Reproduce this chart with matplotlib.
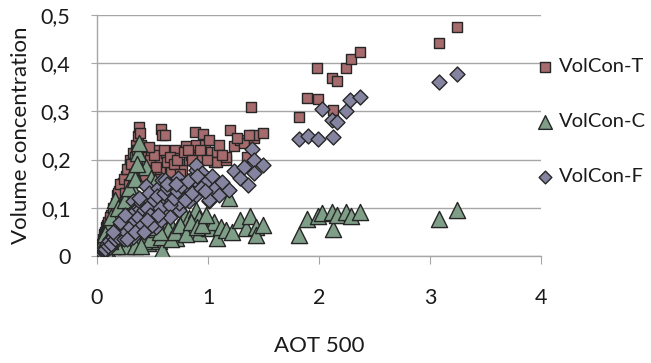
import matplotlib
matplotlib.use("Agg")
import matplotlib.pyplot as plt

plt.rcParams['font.family'] = ['Lato', 'DejaVu Sans']

# VolCon-T (squares)
t_x = [0.01, 0.02, 0.03, 0.04, 0.05, 0.06, 0.07, 0.08, 0.09, 0.1, 0.116, 0.13, 0.15, 0.16,
       0.176, 0.19, 0.2, 0.22, 0.235, 0.26, 0.28, 0.295, 0.3, 0.32, 0.34, 0.35, 0.37, 0.38,
       0.39, 0.41, 0.43, 0.44, 0.46, 0.49, 0.5, 0.52, 0.56, 0.56, 0.58, 0.59, 0.61, 0.62, 0.64,
       0.67, 0.7, 0.71, 0.74, 0.77, 0.8, 0.83, 0.85, 0.88, 0.89, 0.91, 0.955, 0.97, 1.01,
       1.03, 1.05, 1.08, 1.08, 1.16, 1.16, 1.2, 1.23, 1.29, 1.32, 1.35, 1.39, 1.41, 1.41, 1.5,
       1.82, 1.89, 1.98, 1.99, 2.12, 2.13, 2.16, 2.24, 2.29, 2.37, 3.08, 3.24,
       0.12, 0.14, 0.17, 0.19, 0.21, 0.24, 0.25, 0.27, 0.29, 0.31, 0.33, 0.36, 0.4, 0.42,
       0.45, 0.48, 0.51, 0.54, 0.57, 0.6, 0.63, 0.66, 0.69, 0.72, 0.75, 0.78, 0.82, 0.86,
       0.93, 0.99, 1.1, 1.13, 1.26, 1.37, 0.47, 0.53]
t_y = [0.003, 0.008, 0.015, 0.025, 0.035, 0.045, 0.05, 0.06, 0.065, 0.07, 0.075, 0.085, 0.09, 0.095,
       0.127, 0.12, 0.135, 0.14, 0.151, 0.165, 0.16, 0.189, 0.2, 0.213, 0.205, 0.23, 0.248, 0.267,
       0.255, 0.199, 0.165, 0.215, 0.21, 0.206, 0.18, 0.22, 0.199, 0.165, 0.263, 0.251, 0.251, 0.213, 0.19,
       0.175, 0.22, 0.203, 0.19, 0.178, 0.227, 0.199, 0.21, 0.258, 0.23, 0.205, 0.253, 0.23, 0.241,
       0.216, 0.195, 0.216, 0.194, 0.2, 0.206, 0.261, 0.227, 0.241, 0.234, 0.205, 0.309, 0.244, 0.251, 0.254,
       0.288, 0.327, 0.39, 0.325, 0.369, 0.303, 0.363, 0.39, 0.409, 0.423, 0.441, 0.474,
       0.08, 0.1, 0.11, 0.13, 0.15, 0.16, 0.13, 0.18, 0.15, 0.19, 0.17, 0.22, 0.23, 0.18,
       0.19, 0.2, 0.21, 0.17, 0.18, 0.22, 0.195, 0.205, 0.19, 0.2, 0.17, 0.215, 0.22, 0.2,
       0.22, 0.2, 0.23, 0.21, 0.245, 0.25, 0.225, 0.185]

# VolCon-C (triangles)
c_x = [0.01, 0.02, 0.03, 0.04, 0.05, 0.06, 0.07, 0.08, 0.1, 0.1, 0.12, 0.14, 0.16, 0.16, 0.18,
       0.2, 0.22, 0.24, 0.265, 0.28, 0.3, 0.31, 0.32, 0.33, 0.37, 0.38, 0.38, 0.4, 0.44, 0.46,
       0.49, 0.52, 0.5, 0.55, 0.56, 0.59, 0.62, 0.65, 0.68, 0.71, 0.73, 0.78, 0.79, 0.83, 0.875,
       0.88, 0.89, 0.92, 0.92, 0.96, 1.01, 1.05, 1.08, 1.12, 1.16, 1.19, 1.22, 1.29, 1.34, 1.38,
       1.43, 1.43, 1.5, 1.82, 1.89, 1.99, 2.03, 2.12, 2.13, 2.16, 2.24, 2.29, 2.37, 3.08, 3.24,
       0.03, 0.05, 0.07, 0.09, 0.11, 0.13, 0.15, 0.17, 0.19, 0.21, 0.23, 0.25, 0.27, 0.29,
       0.34, 0.36, 0.42, 0.45, 0.48, 0.53, 0.58, 0.6, 0.64, 0.67, 0.7, 0.75, 0.8, 0.85, 0.9,
       0.95, 0.98, 0.26, 0.3, 0.34, 0.18, 0.12, 0.08, 0.4, 0.47, 0.57]
c_y = [0.002, 0.006, 0.01, 0.033, 0.015, 0.04, 0.02, 0.05, 0.061, 0.01, 0.07, 0.02, 0.082, 0.116, 0.09,
       0.03, 0.106, 0.04, 0.123, 0.135, 0.03, 0.147, 0.175, 0.05, 0.213, 0.234, 0.04, 0.06, 0.185, 0.026,
       0.161, 0.154, 0.05, 0.07, 0.03, 0.012, 0.045, 0.047, 0.06, 0.037, 0.061, 0.05, 0.082, 0.078, 0.082,
       0.06, 0.095, 0.047, 0.078, 0.075, 0.057, 0.07, 0.037, 0.06, 0.054, 0.12, 0.05, 0.075, 0.057, 0.083,
       0.061, 0.044, 0.064, 0.044, 0.076, 0.082, 0.089, 0.092, 0.055, 0.085, 0.092, 0.082, 0.092, 0.077, 0.095,
       0.02, 0.03, 0.045, 0.03, 0.04, 0.08, 0.05, 0.06, 0.1, 0.05, 0.07, 0.115, 0.04, 0.14,
       0.16, 0.19, 0.03, 0.045, 0.035, 0.055, 0.04, 0.06, 0.055, 0.035, 0.05, 0.065, 0.045, 0.07, 0.06,
       0.065, 0.085, 0.02, 0.06, 0.02, 0.02, 0.03, 0.01, 0.02, 0.06, 0.05]

# VolCon-F (diamonds)
f_x = [0.01, 0.02, 0.03, 0.04, 0.06, 0.05, 0.08, 0.09, 0.12, 0.12, 0.15, 0.18, 0.18, 0.2, 0.22,
       0.235, 0.25, 0.27, 0.29, 0.29, 0.32, 0.32, 0.33, 0.35, 0.36, 0.38, 0.4, 0.41, 0.43, 0.44,
       0.46, 0.47, 0.47, 0.5, 0.52, 0.53, 0.55, 0.56, 0.59, 0.61, 0.62, 0.65, 0.65, 0.68, 0.7,
       0.73, 0.74, 0.74, 0.77, 0.8, 0.83, 0.85, 0.89, 0.89, 0.89, 0.92, 0.95, 0.96, 0.98, 1.01,
       1.01, 1.04, 1.06, 1.1, 1.13, 1.19, 1.23, 1.29, 1.32, 1.36, 1.4, 1.41, 1.41, 1.5,
       1.82, 1.9, 1.99, 2.03, 2.12, 2.13, 2.16, 2.24, 2.28, 2.37, 3.08, 3.24,
       0.07, 0.1, 0.11, 0.13, 0.14, 0.16, 0.17, 0.19, 0.21, 0.23, 0.24, 0.26, 0.28, 0.3,
       0.31, 0.34, 0.37, 0.39, 0.42, 0.45, 0.48, 0.51, 0.54, 0.57, 0.6, 0.63, 0.66, 0.69,
       0.72, 0.76, 0.79, 0.82, 0.86, 0.9, 0.94, 0.97, 0.27, 0.34, 0.42, 0.5, 0.58, 0.66,
       0.14, 0.21, 0.25, 0.38, 0.45, 0.55, 0.63, 0.71]
f_y = [0.002, 0.004, 0.006, 0.008, 0.009, 0.015, 0.012, 0.025, 0.019, 0.035, 0.03, 0.033, 0.05, 0.06, 0.045,
       0.054, 0.075, 0.065, 0.082, 0.047, 0.04, 0.113, 0.095, 0.095, 0.07, 0.095, 0.11, 0.064, 0.08, 0.144,
       0.12, 0.13, 0.061, 0.089, 0.1, 0.061, 0.14, 0.116, 0.158, 0.158, 0.089, 0.123, 0.089, 0.14, 0.105,
       0.161, 0.095, 0.109, 0.13, 0.144, 0.113, 0.16, 0.178, 0.189, 0.127, 0.15, 0.172, 0.154, 0.154, 0.113,
       0.116, 0.165, 0.14, 0.127, 0.154, 0.137, 0.176, 0.161, 0.185, 0.147, 0.221, 0.199, 0.172, 0.189,
       0.243, 0.249, 0.243, 0.305, 0.281, 0.246, 0.277, 0.30, 0.324, 0.329, 0.36, 0.378,
       0.015, 0.02, 0.03, 0.025, 0.04, 0.035, 0.045, 0.04, 0.055, 0.06, 0.035, 0.05, 0.07, 0.06,
       0.085, 0.075, 0.08, 0.06, 0.095, 0.1, 0.085, 0.115, 0.125, 0.1, 0.13, 0.14, 0.105, 0.12,
       0.135, 0.145, 0.115, 0.155, 0.13, 0.165, 0.14, 0.135, 0.035, 0.05, 0.05, 0.065, 0.075, 0.08,
       0.05, 0.07, 0.085, 0.12, 0.075, 0.085, 0.15, 0.15]

x_ticks = [0, 1, 2, 3, 4]
y_ticks = [0, 0.1, 0.2, 0.3, 0.4, 0.5]
y_labels = ['0', '0,1', '0,2', '0,3', '0,4', '0,5']

fig = plt.figure(figsize=(6.51, 3.63), dpi=100)
ax = fig.add_axes([0.149, 0.295, 0.682, 0.664])

edge = '#262626'
ax.scatter(t_x, t_y, marker='s', s=62, c='#A66B6C', edgecolors=edge, linewidths=1, label='VolCon-T', zorder=3)
ax.scatter(c_x, c_y, marker='^', s=135, c='#7F9E88', edgecolors=edge, linewidths=1, label='VolCon-C', zorder=4)
ax.scatter(f_x, f_y, marker='D', s=58, c='#8484A0', edgecolors=edge, linewidths=1, label='VolCon-F', zorder=5)

ax.set_xlim(0, 4)
ax.set_ylim(0, 0.5)
ax.set_xticks(x_ticks)
ax.set_yticks(y_ticks)
ax.set_yticklabels(y_labels)
ax.grid(axis='y', color='#A6A6A6', linewidth=1)
ax.set_axisbelow(True)

for s in ['top', 'right']:
    ax.spines[s].set_visible(False)
for s in ['left', 'bottom']:
    ax.spines[s].set_color('#A6A6A6')
    ax.spines[s].set_linewidth(1)
ax.tick_params(axis='x', direction='out', length=6, color='#A6A6A6', pad=17, labelsize=15.5, labelcolor='#1a1a1a')
ax.tick_params(axis='y', direction='out', length=4, color='#A6A6A6', pad=15, labelsize=15.5, labelcolor='#1a1a1a')

ax.set_xlabel('AOT 500', fontsize=16, color='#1a1a1a', labelpad=20)
ax.set_ylabel('Volume concentration', fontsize=16, color='#1a1a1a', labelpad=7)

leg = ax.legend(loc='upper left', bbox_to_anchor=(0.972, 0.853), frameon=False, fontsize=14.5,
                labelspacing=1.87, handlelength=0.8, handletextpad=0.3, markerscale=0.85,
                borderaxespad=0)
for t in leg.get_texts():
    t.set_color('#1a1a1a')

fig.savefig('out.png', dpi=100)
